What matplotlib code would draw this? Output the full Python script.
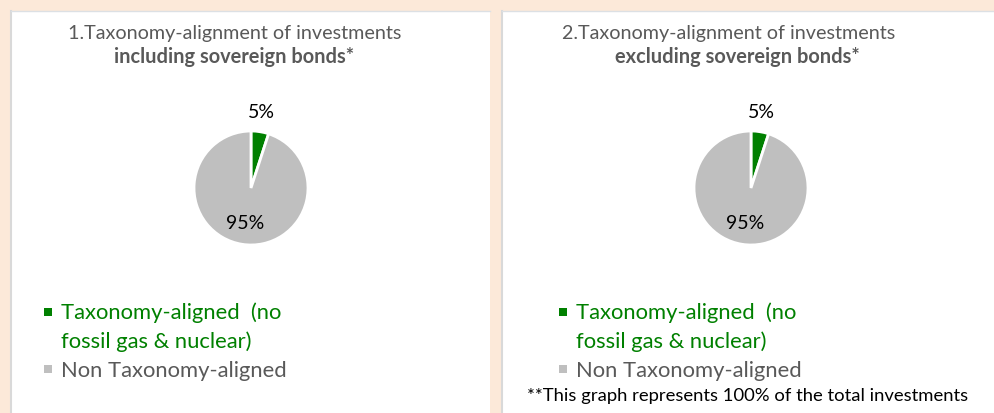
import matplotlib
matplotlib.use("Agg")
import matplotlib.pyplot as plt
from matplotlib.patches import Rectangle
import numpy as np

# data
shares = [5, 95]
slice_colors = ['#008000', '#BFBFBF']
titles = ['1.Taxonomy-alignment of investments', '2.Taxonomy-alignment of investments']
subtitles = ['including sovereign bonds*', 'excluding sovereign bonds*']
legend_labels = [['Taxonomy-aligned  (no', 'fossil gas & nuclear)'], ['Non Taxonomy-aligned']]
legend_text_colors = ['#008000', '#595959']
footnote = '**This graph represents 100% of the total investments'

plt.rcParams['font.family'] = ['Lato', 'DejaVu Sans']

W, H = 994, 414
fig = plt.figure(figsize=(W / 100, H / 100), dpi=100)
fig.patch.set_facecolor('#FCE9D9')

# overlay axes in pixel coordinates
bg = fig.add_axes([0, 0, 1, 1])
bg.set_xlim(0, W)
bg.set_ylim(H, 0)
bg.axis('off')

panels = [(11, 479), (502, 492)]
for x0, w in panels:
    bg.add_patch(Rectangle((x0, 12), w, H, facecolor='white', edgecolor='none'))
    bg.plot([x0, x0], [12, H], color='#D9D9D9', lw=1.5)
    bg.plot([x0, x0 + w], [12, 12], color='#DCE0E4', lw=1)

title_cx = [235, 729]
sub_cx = [234.5, 737]
pie_cx = [251, 751]
pie_cy = 189
radius_px = 57
legend_sq_x = [48, 563]
legend_txt_x = [61, 576]

for i in range(2):
    bg.text(title_cx[i], 38.5, titles[i], ha='center', va='baseline',
            fontsize=14.2, color='#595959')
    bg.text(sub_cx[i], 62.7, subtitles[i], ha='center',
            va='baseline', fontsize=14.4, color='#595959', fontweight='bold')

    # pie axes, radius 1 -> radius_px
    lim = 1.5
    size = 2 * lim * radius_px
    ax = fig.add_axes([(pie_cx[i] - size / 2) / W, (H - pie_cy - size / 2) / H,
                       size / W, size / H])
    wedges, _, autotexts = ax.pie(shares, colors=slice_colors, startangle=90,
                                  counterclock=False, autopct='%1.0f%%',
                                  pctdistance=0.62,
                                  wedgeprops=dict(edgecolor='white', linewidth=2),
                                  textprops=dict(fontsize=14, color='black'))
    ax.set_xlim(-lim, lim)
    ax.set_ylim(-lim, lim)
    ax.set_aspect('equal')
    # small slice label outside the pie
    w0 = wedges[0]
    mid = np.deg2rad((w0.theta1 + w0.theta2) / 2)
    autotexts[0].set_position((1.2 * np.cos(mid), 1.3 * np.sin(mid) + 0.05))

    # legend
    line_ys = [[319, 348.3], [376.7]]
    sq_ys = [313, 370]
    for j in range(2):
        bg.add_patch(Rectangle((legend_sq_x[i] - 4, sq_ys[j] - 4), 8, 8,
                               facecolor=slice_colors[j], edgecolor='none'))
        for line, y in zip(legend_labels[j], line_ys[j]):
            bg.text(legend_txt_x[i], y, line, ha='left', va='baseline',
                    fontsize=15.8, color=legend_text_colors[j])

bg.text(527, 401.5, footnote, ha='left', va='baseline', fontsize=13.3, color='black')

fig.savefig('out.png', dpi=100, facecolor=fig.get_facecolor())
